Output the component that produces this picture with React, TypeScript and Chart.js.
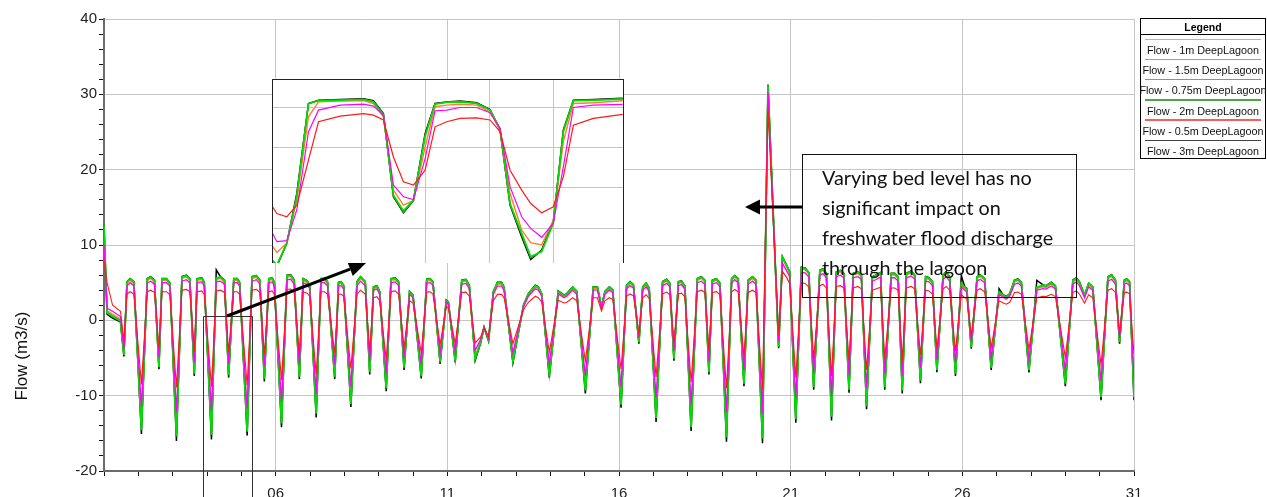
import React, { useEffect, useRef } from 'react';
import { Chart, registerables } from 'chart.js';

Chart.register(...registerables);

// ---------- Main chart data (day of month, flow m3/s) ----------
const TIMES = [
  1.00,1.09,1.25,1.48,1.58,1.67,1.76,1.87,2.09,2.26,
  2.36,2.47,2.60,2.69,2.82,2.92,3.11,3.27,3.40,3.50,
  3.63,3.71,3.85,3.92,4.13,4.27,4.39,4.51,4.63,4.78,
  4.88,4.95,5.17,5.31,5.44,5.54,5.67,5.80,5.90,5.96,
  6.17,6.33,6.44,6.54,6.69,6.80,6.92,6.99,7.18,7.32,
  7.42,7.51,7.72,7.83,7.90,7.98,8.19,8.37,8.47,8.61,
  8.74,8.85,8.95,9.03,9.22,9.36,9.48,9.58,9.74,9.90,
  10.00,10.24,10.40,10.50,10.58,10.79,10.97,11.03,11.23,11.42,
  11.54,11.64,11.81,11.97,12.07,12.20,12.34,12.46,12.58,12.65,
  12.91,13.22,13.36,13.56,13.65,13.75,13.97,14.23,14.40,14.48,
  14.65,14.77,15.02,15.25,15.37,15.49,15.59,15.72,15.82,16.06,
  16.22,16.32,16.42,16.58,16.69,16.79,16.88,17.08,17.27,17.39,
  17.48,17.60,17.73,17.82,17.92,18.10,18.28,18.40,18.50,18.62,
  18.72,18.84,18.94,19.13,19.28,19.37,19.47,19.64,19.76,19.89,
  19.99,20.18,20.34,20.65,20.76,20.88,20.97,21.15,21.31,21.42,
  21.53,21.67,21.85,21.94,22.04,22.19,22.33,22.45,22.55,22.70,
  22.82,22.96,23.06,23.21,23.38,23.50,23.62,23.74,23.93,24.03,
  24.13,24.25,24.37,24.51,24.61,24.78,24.93,25.03,25.13,25.26,
  25.44,25.53,25.63,25.80,25.97,26.07,26.13,26.26,26.43,26.52,
  26.65,26.84,27.07,27.18,27.28,27.38,27.52,27.62,27.72,27.94,
  28.17,28.35,28.44,28.59,28.71,29.00,29.22,29.32,29.41,29.56,
  29.68,29.80,30.04,30.24,30.35,30.46,30.58,30.72,30.79,30.87,31.00,
];

const FLOW_1_5M = [
  12.6,1.0,0.5,-0.1,-4.6,5.1,5.5,5.1,-14.6,5.5,
  5.75,5.3,-6.2,5.5,5.5,4.9,-15.4,5.75,5.95,5.5,
  -7.1,5.5,5.6,5.0,-15.2,5.6,5.75,5.3,-7.3,5.5,
  5.5,5.0,-14.8,5.75,5.9,5.3,-7.75,5.5,5.6,5.0,
  -13.7,5.95,6.0,5.3,-7.5,5.5,5.2,4.6,-12.4,5.5,
  5.5,5.1,-7.5,5.0,5.1,4.6,-11.1,5.1,5.75,5.1,
  -6.9,4.4,4.55,3.8,-9.0,5.5,5.6,5.1,-6.3,3.8,
  3.3,-7.4,5.45,5.5,5.1,-5.5,2.65,2.4,-5.3,5.3,
  5.4,4.6,-5.1,-2.9,-0.9,-2.65,3.8,5.0,5.0,4.4,
  -5.4,2.0,3.5,4.6,4.4,3.5,-7.3,3.85,3.3,3.5,
  4.4,3.8,-9.3,4.4,4.4,1.8,3.8,4.4,4.0,-11.2,
  4.6,5.1,4.7,-2.9,4.4,4.9,4.2,-13.0,5.1,5.4,
  4.9,-5.1,5.1,5.2,4.5,-14.2,5.5,5.75,5.3,-6.9,
  5.3,5.5,4.9,-15.5,5.5,5.9,5.5,-8.4,5.3,5.75,
  5.3,-15.7,31.2,-3.5,8.4,7.3,6.4,-13.1,7.0,6.9,
  6.3,-8.85,6.6,6.8,6.2,-12.8,6.4,6.6,6.2,-9.2,
  6.2,6.4,5.97,-11.4,5.75,6.0,6.3,-8.85,6.2,6.2,
  5.75,-9.3,6.2,6.5,6.0,-8.0,5.75,5.6,5.1,-6.6,
  6.0,6.4,5.75,-7.1,4.9,4.4,4.2,-3.55,5.75,6.0,
  5.5,-6.3,3.8,3.4,3.1,3.5,5.3,5.45,5.0,-6.6,
  4.4,4.65,4.55,5.0,4.55,-8.4,5.3,5.6,5.1,3.3,
  4.9,4.4,-10.2,5.75,6.0,5.3,-2.9,5.3,5.45,5.1,-10.2,
];

const FLOW_0_75M = [
  10.0,1.6,1.2,0.5,-3.8,4.6,5.0,4.6,-11.5,5.0,
  5.2,4.8,-4.9,5.0,5.0,4.5,-12.2,5.2,5.4,5.0,
  -5.6,5.0,5.1,4.55,-12.0,5.1,5.2,4.8,-5.8,5.0,
  5.0,4.55,-11.7,5.2,5.4,4.8,-6.1,5.0,5.1,4.55,
  -10.8,5.4,5.45,4.8,-5.9,5.0,4.75,4.2,-9.8,5.0,
  5.0,4.6,-5.9,4.55,4.6,4.2,-8.8,4.6,5.2,4.6,
  -5.5,4.0,4.15,3.45,-7.1,5.0,5.1,4.6,-5.0,3.45,
  3.0,-5.85,4.95,5.0,4.6,-4.35,2.4,2.2,-4.2,4.8,
  4.9,4.2,-4.0,-2.5,-0.9,-2.4,3.45,4.55,4.55,4.0,
  -4.3,1.8,3.2,4.2,4.0,3.2,-5.8,3.5,3.0,3.2,
  4.0,3.45,-7.35,4.0,4.0,1.65,3.45,4.0,3.65,-8.85,
  4.2,4.6,4.3,-2.3,4.0,4.45,3.8,-10.3,4.6,4.9,
  4.45,-4.0,4.6,4.75,4.1,-11.2,5.0,5.2,4.8,-5.5,
  4.8,5.0,4.45,-12.2,5.0,5.4,5.0,-6.6,4.8,5.2,
  4.8,-12.4,30.3,-2.8,7.6,6.6,5.8,-10.35,6.35,6.3,
  5.75,-7.0,6.0,6.2,5.65,-10.1,5.8,6.0,5.65,-7.3,
  5.65,5.8,5.45,-9.0,5.2,5.45,5.75,-7.0,5.65,5.65,
  5.2,-7.35,5.65,5.9,5.45,-6.3,5.2,5.1,4.6,-5.2,
  5.45,5.8,5.2,-5.6,4.45,4.0,3.8,-2.8,5.2,5.45,
  5.0,-5.0,3.45,3.1,2.8,3.2,4.8,4.95,4.55,-5.2,
  4.0,4.2,4.15,4.55,4.15,-6.6,4.8,5.1,4.6,3.0,
  4.45,4.0,-8.05,5.2,5.45,4.8,-2.3,4.8,4.95,4.6,-8.0,
];

const FLOW_0_5M = [
  7.8,5.0,2.0,1.2,-2.7,3.5,3.8,3.5,-8.5,3.8,
  4.0,3.7,-3.6,3.8,3.8,3.4,-8.9,4.0,4.1,3.8,
  -4.1,3.8,3.9,3.45,-8.8,3.9,4.0,3.7,-4.2,3.8,
  3.8,3.45,-8.6,4.0,4.1,3.7,-4.5,3.8,3.9,3.45,
  -7.9,4.1,4.15,3.7,-4.35,3.8,3.6,3.2,-7.2,3.8,
  3.8,3.5,-4.35,3.45,3.5,3.2,-6.4,3.5,4.0,3.5,
  -4.0,3.0,3.15,2.6,-5.2,3.8,3.9,3.5,-3.65,2.6,
  2.3,-4.3,3.75,3.8,3.5,-3.2,1.85,1.65,-3.1,3.7,
  3.75,3.2,-3.0,-2.2,-1.0,-2.2,2.6,3.45,3.45,3.0,
  -3.1,1.4,2.4,3.2,3.0,2.4,-4.2,2.65,2.3,2.4,
  3.0,2.6,-5.4,3.0,3.0,1.25,2.6,3.0,2.75,-6.5,
  3.2,3.5,3.25,-1.7,3.0,3.4,2.9,-7.5,3.5,3.75,
  3.4,-3.0,3.5,3.6,3.1,-8.2,3.8,4.0,3.7,-4.0,
  3.7,3.8,3.4,-9.0,3.8,4.1,3.8,-4.9,3.7,4.0,
  3.7,-9.1,28.1,-2.0,6.5,5.7,4.9,-7.6,5.0,4.9,
  4.4,-5.1,4.6,4.8,4.3,-7.4,4.5,4.6,4.3,-5.3,
  4.3,4.5,4.2,-6.6,4.0,4.2,4.4,-5.1,4.3,4.3,
  4.0,-5.4,4.3,4.5,4.2,-4.6,4.0,3.9,3.5,-3.8,
  4.2,4.5,4.0,-4.1,3.4,3.0,2.9,-2.05,4.0,4.2,
  3.8,-3.65,2.6,2.35,2.15,2.4,3.7,3.75,3.45,-3.8,
  3.0,3.2,3.15,3.45,3.15,-4.9,3.7,3.9,3.5,2.3,
  3.4,3.0,-5.9,4.0,4.2,3.7,-1.7,3.7,3.75,3.5,-4.5,
];

const FLOW_1M = [
  12.0,1.3,0.8,0.2,-4.3,4.9,5.3,4.9,-13.6,5.3,
  5.55,5.1,-5.8,5.3,5.3,4.7,-14.3,5.55,5.75,5.3,
  -6.6,5.3,5.4,4.8,-14.1,5.4,5.55,5.1,-6.8,5.3,
  5.3,4.8,-13.8,5.55,5.7,5.1,-7.2,5.3,5.4,4.8,
  -12.7,5.75,5.8,5.1,-7.0,5.3,5.0,4.4,-11.5,5.3,
  5.3,4.9,-7.0,4.8,4.9,4.4,-10.3,4.9,5.55,4.9,
  -6.4,4.2,4.35,3.6,-8.4,5.3,5.4,4.9,-5.9,3.6,
  3.1,-6.9,5.25,5.3,4.9,-5.1,2.45,2.2,-4.9,5.1,
  5.2,4.4,-4.75,-2.8,-0.9,-2.5,3.6,4.8,4.8,4.2,
  -5.0,1.85,3.3,4.4,4.2,3.3,-6.8,3.65,3.1,3.3,
  4.2,3.6,-8.65,4.2,4.2,1.65,3.6,4.2,3.8,-10.4,
  4.4,4.9,4.5,-2.7,4.2,4.7,4.0,-12.1,4.9,5.2,
  4.7,-4.75,4.9,5.0,4.3,-13.2,5.3,5.55,5.1,-6.4,
  5.1,5.3,4.7,-14.4,5.3,5.7,5.3,-7.8,5.1,5.55,
  5.1,-14.6,30.8,-3.3,8.2,7.1,6.2,-12.2,6.8,6.7,
  6.1,-8.2,6.4,6.6,6.0,-11.9,6.2,6.4,6.0,-8.55,
  6.0,6.2,5.8,-10.6,5.55,5.8,6.1,-8.2,6.0,6.0,
  5.55,-8.65,6.0,6.3,5.8,-7.45,5.55,5.4,4.9,-6.15,
  5.8,6.2,5.55,-6.6,4.7,4.2,4.0,-3.3,5.55,5.8,
  5.3,-5.9,3.6,3.2,2.9,3.3,5.1,5.25,4.8,-6.15,
  4.2,4.45,4.35,4.8,4.35,-7.8,5.1,5.4,4.9,3.1,
  4.7,4.2,-9.5,5.55,5.8,5.1,-2.7,5.1,5.25,4.9,-9.5,
];

const FLOW_2M = [
  12.4,1.1,0.6,0.0,-4.5,5.05,5.45,5.05,-14.3,5.45,
  5.7,5.25,-6.1,5.45,5.45,4.85,-15.1,5.7,5.9,5.45,
  -7.0,5.45,5.55,4.95,-14.9,5.55,5.7,5.25,-7.2,5.45,
  5.45,4.95,-14.5,5.7,5.85,5.25,-7.6,5.45,5.55,4.95,
  -13.4,5.9,5.95,5.25,-7.35,5.45,5.15,4.55,-12.2,5.45,
  5.45,5.05,-7.35,4.95,5.05,4.55,-10.9,5.05,5.7,5.05,
  -6.8,4.35,4.5,3.75,-8.8,5.45,5.55,5.05,-6.2,3.75,
  3.25,-7.25,5.4,5.45,5.05,-5.4,2.6,2.35,-5.2,5.25,
  5.35,4.55,-5.0,-2.85,-0.9,-2.6,3.75,4.95,4.95,4.35,
  -5.3,1.95,3.45,4.55,4.35,3.45,-7.2,3.8,3.25,3.45,
  4.35,3.75,-9.1,4.35,4.35,1.75,3.75,4.35,3.95,-11.0,
  4.55,5.05,4.65,-2.85,4.35,4.85,4.15,-12.7,5.05,5.35,
  4.85,-5.0,5.05,5.15,4.45,-13.9,5.45,5.7,5.25,-6.8,
  5.25,5.45,4.85,-15.2,5.45,5.85,5.45,-8.2,5.25,5.7,
  5.25,-15.4,31.0,-3.4,8.35,7.25,6.35,-12.8,6.95,6.85,
  6.25,-8.7,6.55,6.75,6.15,-12.5,6.35,6.55,6.15,-9.0,
  6.15,6.35,5.9,-11.2,5.7,5.95,6.25,-8.7,6.15,6.15,
  5.7,-9.1,6.15,6.45,5.95,-7.85,5.7,5.55,5.05,-6.5,
  5.95,6.35,5.7,-7.0,4.85,4.35,4.15,-3.5,5.7,5.95,
  5.45,-6.2,3.75,3.35,3.05,3.45,5.25,5.4,4.95,-6.5,
  4.35,4.6,4.5,4.95,4.5,-8.2,5.25,5.55,5.05,3.25,
  4.85,4.35,-10.0,5.7,5.95,5.25,-2.85,5.25,5.4,5.05,-10.0,
];

const FLOW_3M = [
  12.6,0.8,0.3,-0.2,-4.8,5.15,5.55,5.15,-15.1,5.55,
  5.8,5.35,-6.5,5.55,5.55,4.95,-16.0,5.8,6.0,5.55,
  -7.4,5.55,5.65,5.05,-15.8,6.7,5.8,5.35,-7.6,5.55,
  5.55,5.05,-15.3,5.8,5.95,5.35,-8.1,5.55,5.65,5.05,
  -14.2,6.0,6.05,5.35,-7.8,5.55,5.25,4.65,-12.9,5.55,
  5.55,5.15,-7.8,5.05,5.15,4.65,-11.5,5.15,5.8,5.15,
  -7.2,4.45,4.6,3.85,-9.4,5.55,5.65,5.15,-6.6,3.85,
  3.35,-7.7,5.5,5.55,5.15,-5.8,2.7,2.45,-5.6,5.35,
  5.45,4.65,-5.35,-3.0,-0.95,-2.75,3.85,5.05,5.05,4.45,
  -5.65,2.05,3.55,4.65,4.45,3.55,-7.6,3.9,3.35,3.55,
  4.45,3.85,-9.7,4.45,4.45,1.85,3.85,4.45,4.05,-11.6,
  4.65,5.15,4.75,-3.1,4.45,4.95,4.25,-13.5,5.15,5.45,
  4.95,-5.35,5.15,5.25,4.55,-14.7,5.55,5.8,5.35,-7.2,
  5.35,5.55,4.95,-16.1,5.55,5.95,5.55,-8.75,5.35,5.8,
  5.35,-16.3,31.3,-3.7,8.45,7.35,6.45,-13.6,7.05,6.95,
  6.35,-9.2,6.65,6.85,6.25,-13.3,6.45,6.65,6.25,-9.6,
  6.25,6.45,6.0,-11.8,5.8,6.05,6.35,-9.2,6.25,6.25,
  5.8,-9.7,6.25,6.55,6.05,-8.35,5.8,5.65,5.15,-6.9,
  6.05,6.45,5.8,-7.4,5.9,4.45,4.25,-3.75,5.8,6.05,
  5.55,-6.6,4.2,3.45,3.15,3.55,5.35,5.5,5.05,-6.9,
  5.3,4.7,4.6,5.05,4.6,-8.75,5.35,5.65,5.15,3.35,
  4.95,4.45,-10.6,5.8,6.05,5.35,-3.1,5.35,5.5,5.15,-10.6,
];

const X_TICK_LABELS = ['06', '11', '16', '21', '26', '31'];
const Y_TICK_LABELS = ['-20', '-10', '0', '10', '20', '30', '40'];

// ---------- Inset (zoomed view) data, unlabeled units ----------
const INSET_X = [
  -0.402,-0.334,-0.178,-0.021,0.162,0.319,0.658,1.024,1.181,1.337,
  1.494,1.651,1.808,1.991,2.147,2.33,2.539,2.80,3.009,3.166,
  3.323,3.506,3.647,3.819,4.002,4.159,4.316,4.629,5.089,
];
const INSET_1_5M = [-0.80,-0.92,-0.38,0.78,3.10,3.17,3.18,3.20,3.14,2.81,0.82,0.43,0.70,2.27,3.085,3.13,3.14,3.10,2.935,2.48,0.61,-0.13,-0.71,-0.59,0.12,2.40,3.17,3.18,3.21];
const INSET_3M = [-0.84,-0.95,-0.38,0.86,3.10,3.18,3.20,3.22,3.17,2.85,0.78,0.38,0.68,2.35,3.10,3.14,3.16,3.12,2.95,2.44,0.57,-0.22,-0.78,-0.55,0.16,2.44,3.18,3.20,3.23];
const INSET_2M = [-0.82,-0.93,-0.38,0.82,3.10,3.175,3.19,3.21,3.15,2.83,0.80,0.40,0.69,2.31,3.09,3.135,3.15,3.11,2.94,2.46,0.59,-0.17,-0.74,-0.57,0.14,2.42,3.175,3.19,3.22];
const INSET_1M = [-0.46,-0.61,-0.38,0.70,2.77,3.14,3.16,3.17,3.10,2.77,0.945,0.57,0.68,2.02,3.02,3.06,3.08,3.06,2.89,2.44,0.86,-0.05,-0.365,-0.42,0.20,2.15,3.10,3.12,3.17];
const INSET_0_75M = [-0.13,-0.34,-0.315,0.45,2.40,2.935,3.06,3.085,3.035,2.81,1.07,0.78,0.71,1.73,2.92,2.935,3.0,3.0,2.87,2.48,1.03,0.28,-0.01,-0.23,0.12,1.53,3.0,3.06,3.08];
const INSET_0_5M = [0.53,0.36,0.28,0.57,1.69,2.645,2.786,2.85,2.81,2.69,1.77,1.15,1.07,1.44,2.52,2.645,2.73,2.74,2.69,2.40,1.44,0.945,0.61,0.38,0.53,1.28,2.56,2.73,2.83];

const LEGEND_LABELS = [
  'Flow - 1m DeepLagoon',
  'Flow - 1.5m DeepLagoon',
  'Flow - 0.75m DeepLagoon',
  'Flow - 2m DeepLagoon',
  'Flow - 0.5m DeepLagoon',
  'Flow - 3m DeepLagoon',
];
const LEGEND_COLORS = ['#f7a26c', '#33ee33', '#f04cf0', '#4aa84a', '#f46060', '#444444'];

const NOTE_LINES = [
  'Varying bed level has no',
  'significant impact on',
  'freshwater flood discharge',
  'through the lagoon',
];
const Y_TITLE = 'Flow (m3/s)';

const C_05 = '#ff1a1a';
const C_075 = '#ff00ff';
const C_15 = '#00dd00';
const C_1 = '#ff7f27';
const C_2 = '#2f9f2f';
const C_3 = '#000000';

const FONT = '"Liberation Sans", Arial, sans-serif';
const GRID = '#c6c6c6';

function pts(xs: number[], ys: number[]) {
  return xs.map((x, i) => ({ x, y: ys[i] }));
}

function ds(label: string, xs: number[], ys: number[], color: string, width: number) {
  return {
    label,
    data: pts(xs, ys),
    borderColor: color,
    backgroundColor: color,
    borderWidth: width,
    pointRadius: 0,
    tension: 0,
    fill: false,
  };
}

function drawArrow(ctx: CanvasRenderingContext2D, x1: number, y1: number, x2: number, y2: number, w: number, hl: number, hw: number) {
  const a = Math.atan2(y2 - y1, x2 - x1);
  const bx = x2 - hl * Math.cos(a);
  const by = y2 - hl * Math.sin(a);
  ctx.strokeStyle = '#000';
  ctx.fillStyle = '#000';
  ctx.lineWidth = w;
  ctx.beginPath();
  ctx.moveTo(x1, y1);
  ctx.lineTo(bx, by);
  ctx.stroke();
  ctx.beginPath();
  ctx.moveTo(x2, y2);
  ctx.lineTo(bx + hw * Math.sin(a), by - hw * Math.cos(a));
  ctx.lineTo(bx - hw * Math.sin(a), by + hw * Math.cos(a));
  ctx.closePath();
  ctx.fill();
}

const annotationPlugin = {
  id: 'annots',
  afterDraw(chart: any) {
    const ctx: CanvasRenderingContext2D = chart.ctx;
    ctx.save();
    // y axis title
    ctx.save();
    ctx.translate(22, 356);
    ctx.rotate(-Math.PI / 2);
    ctx.font = '17px ' + FONT;
    ctx.fillStyle = '#111';
    ctx.textAlign = 'center';
    ctx.textBaseline = 'middle';
    ctx.fillText(Y_TITLE, 0, 0);
    ctx.restore();

    // zoom source rectangle
    ctx.strokeStyle = '#333';
    ctx.lineWidth = 1;
    ctx.beginPath();
    ctx.moveTo(203.5, 497);
    ctx.lineTo(203.5, 316.5);
    ctx.lineTo(252.5, 316.5);
    ctx.lineTo(252.5, 497);
    ctx.stroke();

    // arrow to inset
    drawArrow(ctx, 227, 316, 366, 263, 3, 17, 7.5);

    // text box
    ctx.strokeStyle = '#111';
    ctx.lineWidth = 1;
    ctx.strokeRect(802.5, 154.5, 274, 143);
    drawArrow(ctx, 802, 207, 745, 207, 3, 15, 7.5);
    ctx.fillStyle = '#111';
    ctx.font = '19.8px Lato, "Open Sans", sans-serif';
    ctx.textAlign = 'left';
    ctx.textBaseline = 'alphabetic';
    NOTE_LINES.forEach((t, i) => ctx.fillText(t, 822, 185 + i * 30));
    ctx.restore();
  },
};

export default function App() {
  const mainRef = useRef<HTMLCanvasElement>(null);
  const insetRef = useRef<HTMLCanvasElement>(null);

  useEffect(() => {
    Chart.defaults.font.family = FONT;
    const main = new Chart(mainRef.current!, {
      type: 'line',
      data: {
        datasets: [
          ds(LEGEND_LABELS[4], TIMES, FLOW_0_5M, C_05, 1.1),
          ds(LEGEND_LABELS[2], TIMES, FLOW_0_75M, C_075, 1.3),
          ds(LEGEND_LABELS[1], TIMES, FLOW_1_5M, C_15, 1.8),
          ds(LEGEND_LABELS[0], TIMES, FLOW_1M, C_1, 1.2),
          ds(LEGEND_LABELS[3], TIMES, FLOW_2M, C_2, 1.5),
          ds(LEGEND_LABELS[5], TIMES, FLOW_3M, C_3, 1.5),
        ],
      },
      options: {
        animation: false,
        responsive: false,
        devicePixelRatio: 1,
        layout: { padding: { left: 0, right: 133, top: 19, bottom: 0 } },
        plugins: { legend: { display: false }, tooltip: { enabled: false }, title: { display: false } },
        scales: {
          x: {
            type: 'linear',
            min: 1,
            max: 31,
            afterFit: (s: any) => { s.height = 26; },
            border: { display: true, color: '#6a6a6a', width: 2 },
            grid: {
              color: (c: any) => {
                const v = c.tick ? c.tick.value : 0;
                return X_TICK_LABELS.includes(String(v).padStart(2, '0')) ? GRID : 'rgba(0,0,0,0)';
              },
              tickColor: '#111',
              tickLength: 5,
              lineWidth: 1,
            },
            ticks: {
              stepSize: 1,
              autoSkip: false,
              maxRotation: 0,
              padding: 9,
              color: '#222',
              font: { size: 15, family: FONT },
              callback: (v: any) => {
                const s = String(v).padStart(2, '0');
                return X_TICK_LABELS.includes(s) ? s : '';
              },
            },
          },
          y: {
            min: -20,
            max: 40,
            afterFit: (s: any) => { s.width = 104; },
            border: { display: true, color: '#6a6a6a', width: 2 },
            grid: {
              color: (c: any) => {
                const v = c.tick ? c.tick.value : 0;
                return Y_TICK_LABELS.includes(String(v)) && v !== -20 ? GRID : 'rgba(0,0,0,0)';
              },
              tickColor: '#111',
              tickLength: 5,
              lineWidth: 1,
            },
            ticks: {
              stepSize: 2,
              autoSkip: false,
              padding: 2,
              color: '#222',
              font: { size: 15, family: FONT },
              callback: (v: any) => (Y_TICK_LABELS.includes(String(v)) ? String(v) : ''),
            },
          },
        },
      },
      plugins: [annotationPlugin],
    } as any);

    const isInt = (v: number) => Math.abs(v - Math.round(v)) < 1e-6;
    const inset = new Chart(insetRef.current!, {
      type: 'line',
      data: {
        datasets: [
          ds(LEGEND_LABELS[4], INSET_X, INSET_0_5M, C_05, 1.2),
          ds(LEGEND_LABELS[2], INSET_X, INSET_0_75M, C_075, 1.2),
          ds(LEGEND_LABELS[1], INSET_X, INSET_1_5M, C_15, 1.6),
          ds(LEGEND_LABELS[0], INSET_X, INSET_1M, C_1, 1.4),
          ds(LEGEND_LABELS[3], INSET_X, INSET_2M, C_2, 1.4),
          ds(LEGEND_LABELS[5], INSET_X, INSET_3M, C_3, 1.5),
        ],
      },
      options: {
        animation: false,
        responsive: false,
        devicePixelRatio: 1,
        layout: { padding: 0 },
        plugins: { legend: { display: false }, tooltip: { enabled: false } },
        scales: {
          x: {
            type: 'linear',
            min: -0.41,
            max: 5.11,
            afterFit: (s: any) => { s.height = 0; },
            border: { display: false },
            grid: {
              drawTicks: false,
              color: (c: any) => (c.tick && isInt(c.tick.value) ? GRID : 'rgba(0,0,0,0)'),
            },
            ticks: { display: false, stepSize: 1, autoSkip: false },
          },
          y: {
            min: -0.87,
            max: 3.71,
            afterFit: (s: any) => { s.width = 0; },
            border: { display: false },
            grid: {
              drawTicks: false,
              color: (c: any) => (c.tick && isInt(c.tick.value) ? GRID : 'rgba(0,0,0,0)'),
            },
            ticks: { display: false, stepSize: 1, autoSkip: false },
          },
        },
      },
    } as any);

    return () => {
      main.destroy();
      inset.destroy();
    };
  }, []);

  return (
    <div style={{ position: 'fixed', left: 0, top: 0, width: 1267, height: 497, background: '#fff', overflow: 'hidden' }}>
      <canvas ref={mainRef} width={1267} height={497} style={{ position: 'absolute', left: 0, top: 0 }} />
      <div style={{ position: 'absolute', left: 272, top: 79, width: 352, height: 184, background: '#fff' }}>
        <canvas ref={insetRef} width={352} height={184} style={{ position: 'absolute', left: 0, top: 0 }} />
        <div style={{ position: 'absolute', left: 0, top: 0, width: 352, height: 184, boxSizing: 'border-box', borderLeft: '1px solid #222', borderTop: '1px solid #222', borderRight: '1px solid #222' }} />
      </div>
      <div style={{ position: 'absolute', left: 1140, top: 18, width: 126, height: 141, boxSizing: 'border-box', border: '1px solid #000', background: '#fff', fontFamily: FONT }}>
        <div style={{ position: 'absolute', left: 0, top: 1, width: 124, textAlign: 'center', fontWeight: 'bold', fontSize: 10.5, lineHeight: '14px' }}>Legend</div>
        <div style={{ position: 'absolute', left: 0, top: 15, width: 124, height: 1, background: '#000' }} />
        {LEGEND_LABELS.map((lab, i) => (
          <React.Fragment key={lab}>
            <div style={{ position: 'absolute', left: 4, top: 19.5 + i * 20.2, width: 116, height: 1.5, background: LEGEND_COLORS[i] }} />
            <div style={{ position: 'absolute', left: -10, top: 25 + i * 20.2, width: 144, textAlign: 'center', fontSize: 10.8, lineHeight: '13px', color: '#111', whiteSpace: 'nowrap' }}>{lab}</div>
          </React.Fragment>
        ))}
      </div>
    </div>
  );
}
